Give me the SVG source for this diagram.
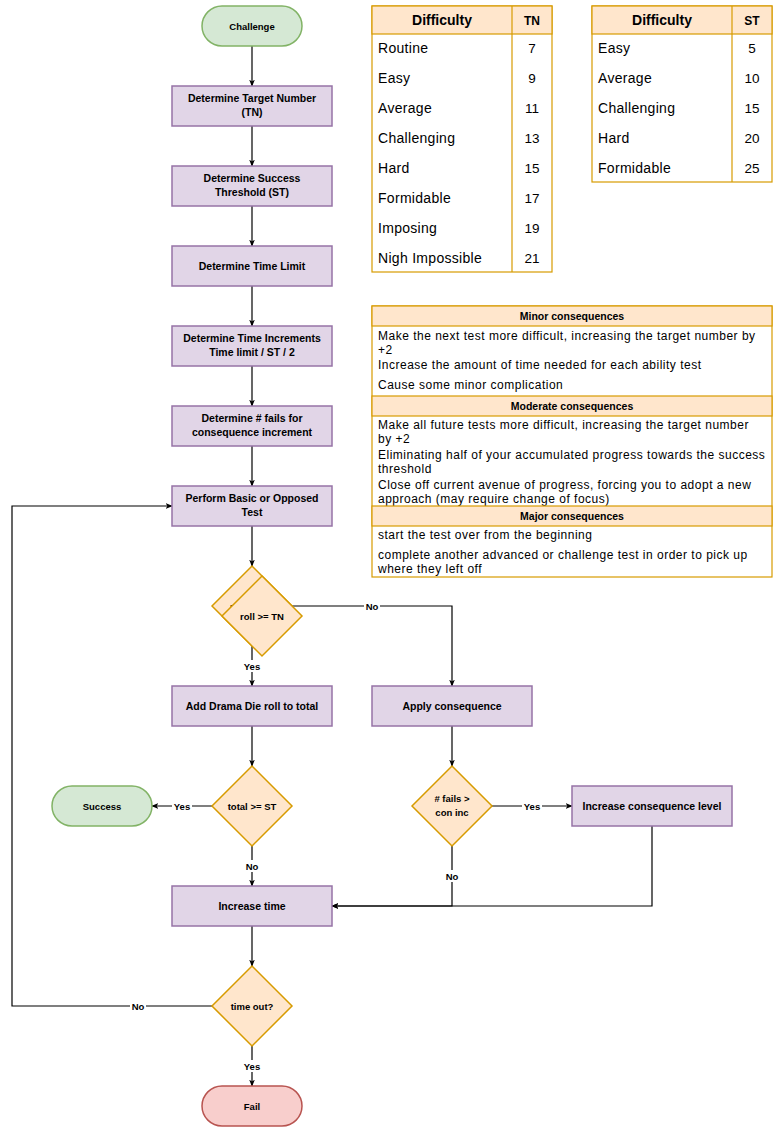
<svg xmlns="http://www.w3.org/2000/svg" width="778" height="1132" viewBox="0 0 778 1132">
<defs>
<marker id="arr" viewBox="0 0 10 10" refX="9" refY="5" markerWidth="7" markerHeight="7" orient="auto" markerUnits="userSpaceOnUse">
<path d="M0,1 L10,5 L0,9 L2.5,5 Z" fill="#000"/>
</marker>
<style>
text{font-family:"Liberation Sans",Arial,sans-serif;fill:#000}
.proc{fill:#e1d5e7;stroke:#9673a6;stroke-width:1.5}
.term{fill:#d5e8d4;stroke:#82b366;stroke-width:1.5}
.fail{fill:#f8cecc;stroke:#b85450;stroke-width:1.5}
.dec{fill:#ffe6cc;stroke:#d79b00;stroke-width:1.5}
.tbl{fill:#fff;stroke:#d79b00;stroke-width:1.2}
.hdr{fill:#ffe6cc;stroke:#d79b00;stroke-width:1.2}
.nl{font-size:10.5px;font-weight:bold;text-anchor:middle}
.sl{font-size:9.5px;font-weight:bold;text-anchor:middle}
.el{font-size:9.5px;font-weight:bold;text-anchor:middle}
.th{font-size:14px;font-weight:bold;text-anchor:middle}
.td{font-size:14px;letter-spacing:0.3px}
.tn{font-size:13.5px;text-anchor:middle}
.ch{font-size:10.5px;font-weight:bold;text-anchor:middle}
.ct{font-size:12px;letter-spacing:0.5px}
.edge{fill:none;stroke:#000;stroke-width:1.2;marker-end:url(#arr)}
.lbg{fill:#fff}
</style>
</defs>
<rect width="778" height="1132" fill="#fff"/>

<g id="connectors">
<path class="edge" d="M252,46 L252,86"/>
<path class="edge" d="M252,126 L252,166"/>
<path class="edge" d="M252,206 L252,246"/>
<path class="edge" d="M252,286 L252,326"/>
<path class="edge" d="M252,366 L252,406"/>
<path class="edge" d="M252,446 L252,486"/>
<path class="edge" d="M252,526 L252,566"/>
<path class="edge" d="M252,646 L252,686"/>
<path class="edge" d="M292,606 L452,606 L452,686"/>
<path class="edge" d="M252,726 L252,766"/>
<path class="edge" d="M452,726 L452,766"/>
<path class="edge" d="M212,806 L152,806"/>
<path class="edge" d="M252,846 L252,886"/>
<path class="edge" d="M492,806 L572,806"/>
<path class="edge" d="M452,846 L452,906 L332,906"/>
<path class="edge" d="M652,826 L652,906 L332,906"/>
<path class="edge" d="M252,926 L252,966"/>
<path class="edge" d="M212,1006 L12,1006 L12,506 L172,506"/>
<path class="edge" d="M252,1046 L252,1086"/>
<rect class="lbg" x="242" y="660" width="20" height="12"/>
<text class="el" x="252" y="669.5">Yes</text>
<rect class="lbg" x="364" y="600" width="16" height="12"/>
<text class="el" x="372" y="609.5">No</text>
<rect class="lbg" x="172" y="800" width="20" height="12"/>
<text class="el" x="182" y="809.5">Yes</text>
<rect class="lbg" x="244" y="860" width="16" height="12"/>
<text class="el" x="252" y="869.5">No</text>
<rect class="lbg" x="522" y="800" width="20" height="12"/>
<text class="el" x="532" y="809.5">Yes</text>
<rect class="lbg" x="444" y="870" width="16" height="12"/>
<text class="el" x="452" y="879.5">No</text>
<rect class="lbg" x="130" y="1000" width="16" height="12"/>
<text class="el" x="138" y="1009.5">No</text>
<rect class="lbg" x="242" y="1060" width="20" height="12"/>
<text class="el" x="252" y="1069.5">Yes</text>
</g>

<g id="challenge">
<rect class="term" x="202" y="6" width="100" height="40" rx="20"/>
<text class="sl" x="252" y="29.5">Challenge</text>
</g>
<g id="determine-tn">
<rect class="proc" x="172" y="86" width="160" height="40"/>
<text class="nl" x="252" y="102">Determine Target Number</text>
<text class="nl" x="252" y="116">(TN)</text>
</g>
<g id="determine-st">
<rect class="proc" x="172" y="166" width="160" height="40"/>
<text class="nl" x="252" y="182">Determine Success</text>
<text class="nl" x="252" y="196">Threshold (ST)</text>
</g>
<g id="determine-time-limit">
<rect class="proc" x="172" y="246" width="160" height="40"/>
<text class="nl" x="252" y="269.5">Determine Time Limit</text>
</g>
<g id="determine-time-increments">
<rect class="proc" x="172" y="326" width="160" height="40"/>
<text class="nl" x="252" y="342">Determine Time Increments</text>
<text class="nl" x="252" y="356">Time limit / ST / 2</text>
</g>
<g id="determine-fails">
<rect class="proc" x="172" y="406" width="160" height="40"/>
<text class="nl" x="252" y="422">Determine # fails for</text>
<text class="nl" x="252" y="436">consequence increment</text>
</g>
<g id="perform-test">
<rect class="proc" x="172" y="486" width="160" height="40"/>
<text class="nl" x="252" y="502">Perform Basic or Opposed</text>
<text class="nl" x="252" y="516">Test</text>
</g>
<g id="roll-tn-back">
<polygon class="dec" points="252,566 292,606 252,646 212,606"/>
<text class="sl" x="252" y="609.5">roll &gt;= TN</text>
</g>
<g id="roll-tn">
<polygon class="dec" points="262,576 302,616 262,656 222,616"/>
<text class="sl" x="262" y="619.5">roll &gt;= TN</text>
</g>
<g id="add-drama">
<rect class="proc" x="172" y="686" width="160" height="40"/>
<text class="nl" x="252" y="709.5">Add Drama Die roll to total</text>
</g>
<g id="apply-consequence">
<rect class="proc" x="372" y="686" width="160" height="40"/>
<text class="nl" x="452" y="709.5">Apply consequence</text>
</g>
<g id="total-st">
<polygon class="dec" points="252,766 292,806 252,846 212,806"/>
<text class="sl" x="252" y="809.5">total &gt;= ST</text>
</g>
<g id="success">
<rect class="term" x="52" y="786" width="100" height="40" rx="20"/>
<text class="sl" x="102" y="809.5">Success</text>
</g>
<g id="fails-con-inc">
<polygon class="dec" points="452,766 492,806 452,846 412,806"/>
<text class="sl" x="452" y="802">#  fails &gt;</text>
<text class="sl" x="452" y="815.5">con inc</text>
</g>
<g id="increase-consequence">
<rect class="proc" x="572" y="786" width="160" height="40"/>
<text class="nl" x="652" y="809.5">Increase consequence level</text>
</g>
<g id="increase-time">
<rect class="proc" x="172" y="886" width="160" height="40"/>
<text class="nl" x="252" y="909.5">Increase time</text>
</g>
<g id="time-out">
<polygon class="dec" points="252,966 292,1006 252,1046 212,1006"/>
<text class="sl" x="252" y="1009.5">time out?</text>
</g>
<g id="fail">
<rect class="fail" x="202" y="1086" width="100" height="40" rx="20"/>
<text class="sl" x="252" y="1109.5">Fail</text>
</g>

<g id="tn-table">
<rect class="tbl" x="372" y="6" width="180" height="266"/>
<rect class="hdr" x="372" y="6" width="180" height="28"/>
<line class="tbl" x1="512" y1="6" x2="512" y2="272"/>
<text class="th" x="442" y="25">Difficulty</text>
<text class="th" x="532" y="25" style="font-size:12px">TN</text>
<text class="td" x="378" y="53">Routine</text><text class="tn" x="532" y="53">7</text>
<text class="td" x="378" y="83">Easy</text><text class="tn" x="532" y="83">9</text>
<text class="td" x="378" y="113">Average</text><text class="tn" x="532" y="113">11</text>
<text class="td" x="378" y="143">Challenging</text><text class="tn" x="532" y="143">13</text>
<text class="td" x="378" y="173">Hard</text><text class="tn" x="532" y="173">15</text>
<text class="td" x="378" y="203">Formidable</text><text class="tn" x="532" y="203">17</text>
<text class="td" x="378" y="233">Imposing</text><text class="tn" x="532" y="233">19</text>
<text class="td" x="378" y="263">Nigh Impossible</text><text class="tn" x="532" y="263">21</text>
</g>

<g id="st-table">
<rect class="tbl" x="592" y="6" width="180" height="176"/>
<rect class="hdr" x="592" y="6" width="180" height="28"/>
<line class="tbl" x1="732" y1="6" x2="732" y2="182"/>
<text class="th" x="662" y="25">Difficulty</text>
<text class="th" x="752" y="25" style="font-size:12px">ST</text>
<text class="td" x="598" y="53">Easy</text><text class="tn" x="752" y="53">5</text>
<text class="td" x="598" y="83">Average</text><text class="tn" x="752" y="83">10</text>
<text class="td" x="598" y="113">Challenging</text><text class="tn" x="752" y="113">15</text>
<text class="td" x="598" y="143">Hard</text><text class="tn" x="752" y="143">20</text>
<text class="td" x="598" y="173">Formidable</text><text class="tn" x="752" y="173">25</text>
</g>

<g id="consequences">
<rect class="tbl" x="372" y="306" width="400" height="271"/>
<rect class="hdr" x="372" y="306" width="400" height="20"/>
<text class="ch" x="572" y="319.5">Minor consequences</text>
<text class="ct" x="378" y="340">Make the next test more difficult, increasing the target number by</text>
<text class="ct" x="378" y="354">+2</text>
<text class="ct" x="378" y="369">Increase the amount of time needed for each ability test</text>
<text class="ct" x="378" y="389">Cause some minor complication</text>
<rect class="hdr" x="372" y="396" width="400" height="20"/>
<text class="ch" x="572" y="409.5">Moderate consequences</text>
<text class="ct" x="378" y="429">Make all future tests more difficult, increasing the target number</text>
<text class="ct" x="378" y="443">by +2</text>
<text class="ct" x="378" y="459">Eliminating half of your accumulated progress towards the success</text>
<text class="ct" x="378" y="473">threshold</text>
<text class="ct" x="378" y="489">Close off current avenue of progress, forcing you to adopt a new</text>
<text class="ct" x="378" y="503">approach (may require change of focus)</text>
<rect class="hdr" x="372" y="506" width="400" height="20"/>
<text class="ch" x="572" y="519.5">Major consequences</text>
<text class="ct" x="378" y="539">start the test over from the beginning</text>
<text class="ct" x="378" y="559">complete another advanced or challenge test in order to pick up</text>
<text class="ct" x="378" y="573">where they left off</text>
</g>
</svg>
